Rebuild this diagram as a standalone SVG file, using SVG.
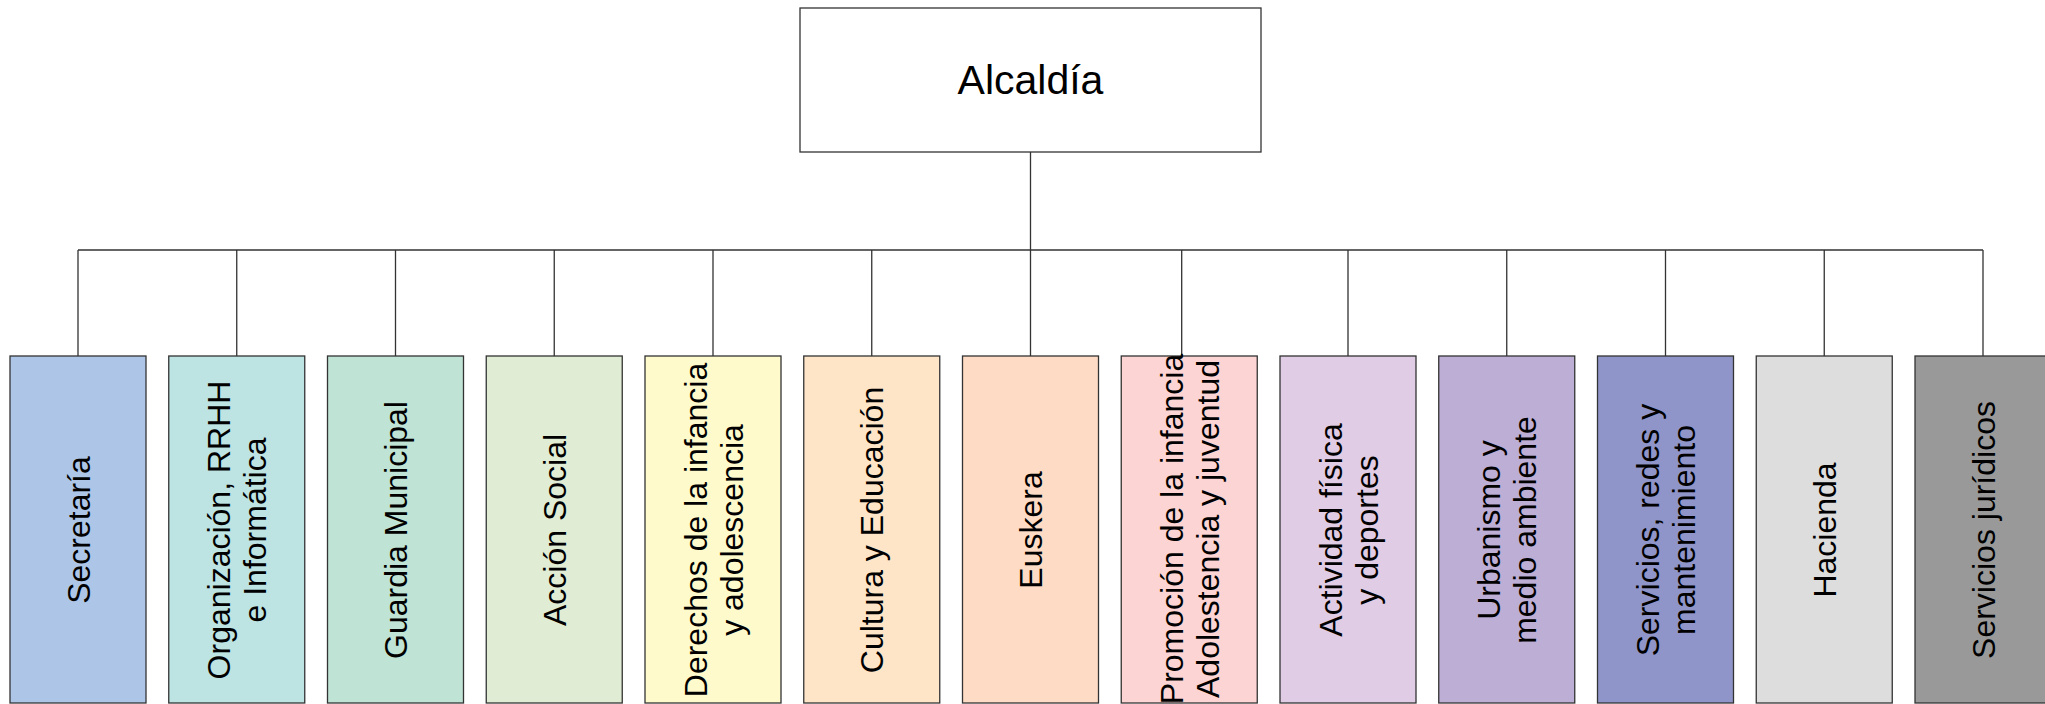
<svg xmlns="http://www.w3.org/2000/svg" width="2045" height="704" viewBox="0 0 2045 704">
<style>
.box{stroke:#333;stroke-width:1.3}
.lbl{font-family:"Liberation Sans",Arial,sans-serif;font-size:32px;fill:#000;text-anchor:middle}
.conn{fill:none;stroke:#333;stroke-width:1.3}
</style>
<rect width="2045" height="704" fill="#fff"/>
<g id="connectors">
<path class="conn" d="M1030.5 152V250M78 250H1983M78 250V356M236.75 250V356M395.5 250V356M554.25 250V356M713 250V356M871.75 250V356M1030.5 250V356M1181.7 250V356M1348 250V356M1506.75 250V356M1665.5 250V356M1824.25 250V356M1983 250V356"/>
</g>
<g id="alcaldia">
<rect class="box" x="800" y="8" width="461" height="144" fill="#fff"/>
<text x="1030.5" y="94" style="font-family:'Liberation Sans',Arial,sans-serif;font-size:41px;text-anchor:middle">Alcaldía</text>
</g>
<g id="secretaria">
<rect class="box" x="10" y="356" width="136" height="347" fill="#adc6e8"/>
<text class="lbl" transform="translate(78,530) rotate(-90)" y="11.5">Secretaría</text>
</g>
<g id="organizacion">
<rect class="box" x="168.75" y="356" width="136" height="347" fill="#bde3e3"/>
<text class="lbl" transform="translate(236.75,530) rotate(-90)"><tspan x="0" y="-6.5">Organización, RRHH</tspan><tspan x="0" y="29.5">e Informática</tspan></text>
</g>
<g id="guardia">
<rect class="box" x="327.5" y="356" width="136" height="347" fill="#bfe3d4"/>
<text class="lbl" transform="translate(395.5,530) rotate(-90)" y="11.5">Guardia Municipal</text>
</g>
<g id="accion-social">
<rect class="box" x="486.25" y="356" width="136" height="347" fill="#e0edd4"/>
<text class="lbl" transform="translate(554.25,530) rotate(-90)" y="11.5">Acción Social</text>
</g>
<g id="derechos">
<rect class="box" x="645" y="356" width="136" height="347" fill="#fffacc"/>
<text class="lbl" transform="translate(713,530) rotate(-90)"><tspan x="0" y="-6.5">Derechos de la infancia</tspan><tspan x="0" y="29.5">y adolescencia</tspan></text>
</g>
<g id="cultura">
<rect class="box" x="803.75" y="356" width="136" height="347" fill="#ffe5c8"/>
<text class="lbl" transform="translate(871.75,530) rotate(-90)" y="11.5">Cultura y Educación</text>
</g>
<g id="euskera">
<rect class="box" x="962.5" y="356" width="136" height="347" fill="#fedbc4"/>
<text class="lbl" transform="translate(1030.5,530) rotate(-90)" y="11.5">Euskera</text>
</g>
<g id="promocion">
<rect class="box" x="1121.25" y="356" width="136" height="347" fill="#fbd4d3"/>
<text class="lbl" transform="translate(1189.25,529) rotate(-90)"><tspan x="0" y="-6.5">Promoción de la infancia</tspan><tspan x="0" y="29.5">Adolestencia y juventud</tspan></text>
</g>
<g id="actividad">
<rect class="box" x="1280" y="356" width="136" height="347" fill="#e0cce4"/>
<text class="lbl" transform="translate(1348,530) rotate(-90)"><tspan x="0" y="-6.5">Actividad física</tspan><tspan x="0" y="29.5">y deportes</tspan></text>
</g>
<g id="urbanismo">
<rect class="box" x="1438.75" y="356" width="136" height="347" fill="#bdaed6"/>
<text class="lbl" transform="translate(1506.75,530) rotate(-90)"><tspan x="0" y="-6.5">Urbanismo y</tspan><tspan x="0" y="29.5">medio ambiente</tspan></text>
</g>
<g id="servicios">
<rect class="box" x="1597.5" y="356" width="136" height="347" fill="#8f95c8"/>
<text class="lbl" transform="translate(1665.5,530) rotate(-90)"><tspan x="0" y="-6.5">Servicios, redes y</tspan><tspan x="0" y="29.5">mantenimiento</tspan></text>
</g>
<g id="hacienda">
<rect class="box" x="1756.25" y="356" width="136" height="347" fill="#dddddd"/>
<text class="lbl" transform="translate(1824.25,530) rotate(-90)" y="11.5">Hacienda</text>
</g>
<g id="juridicos">
<rect class="box" x="1915" y="356" width="136" height="347" fill="#999999"/>
<text class="lbl" transform="translate(1983,530) rotate(-90)" y="11.5">Servicios jurídicos</text>
</g>
</svg>
